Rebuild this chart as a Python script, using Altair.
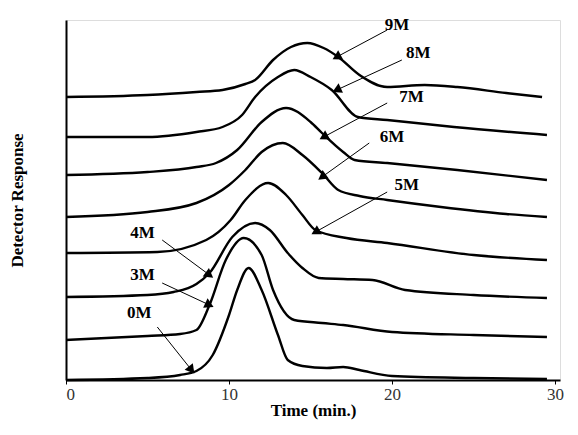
import math
import pandas as pd
import altair as alt

# time (min) / detector response (arbitrary, stacked offsets) for each trace
t_0M = [0, 5, 7, 8, 9, 10, 10.5, 11.2, 12, 13, 13.6, 14.5, 16, 17, 18, 20, 25, 29.5]
r_0M = [0, 2, 5, 9, 25, 65, 90, 112, 90, 45, 20, 14, 12, 13, 10, 4, 2, 1]
t_3M = [0, 5, 7, 8, 8.8, 9.8, 10.9, 12, 12.7, 14, 15.7, 17, 20, 25, 29.5]
r_3M = [40, 44, 46, 50, 75, 120, 142, 125, 90, 60, 57, 55, 48, 45, 43]
t_4M = [0, 5, 6.6, 8, 8.8, 10.2, 11.6, 12.5, 13.6, 14.5, 15.5, 17, 18.8, 20.8, 25, 29.5]
r_4M = [83, 85, 88, 96, 107, 143, 157, 150, 127, 112, 102, 101, 100, 90, 85, 82]
t_5M = [0, 5.6, 8.6, 10.1, 11, 12.4, 13.5, 14.5, 15.3, 17.2, 19.7, 25, 29.5]
r_5M = [127, 128, 140, 160, 180, 197, 185, 165, 150, 142, 137, 125, 120]
t_6M = [0, 5, 8, 10, 11, 12, 13.3, 14.5, 15.7, 16.7, 18, 19.7, 23, 27, 29.5]
r_6M = [163, 168, 177, 195, 210, 228, 237, 225, 207, 190, 184, 180, 173, 166, 163]
t_7M = [0, 5, 8, 9.2, 10.5, 12, 13.5, 15, 15.7, 17, 17.7, 19.7, 24, 29.5]
r_7M = [205, 208, 213, 217, 230, 258, 272, 258, 247, 228, 220, 217, 210, 200]
t_8M = [0, 5, 8, 9.6, 10.8, 11.6, 13, 14, 15, 16.3, 17.9, 19.7, 23.8, 29.5]
r_8M = [243, 243, 248, 253, 265, 283, 303, 310, 303, 290, 263, 260, 253, 245]
t_9M = [0, 5, 8, 9.6, 11, 11.6, 12.7, 13.8, 14.8, 15.8, 16.7, 18, 19.7, 22, 24, 27, 29.2]
r_9M = [283, 285, 288, 290, 296, 300, 320, 333, 337, 332, 323, 305, 293, 295, 293, 287, 283]

traces = {"0M": (t_0M, r_0M), "3M": (t_3M, r_3M), "4M": (t_4M, r_4M),
          "5M": (t_5M, r_5M), "6M": (t_6M, r_6M), "7M": (t_7M, r_7M),
          "8M": (t_8M, r_8M), "9M": (t_9M, r_9M)}

# labels: text position, arrow start, arrow tip
labels = ["9M", "8M", "7M", "6M", "5M", "4M", "3M", "0M"]
label_t = [20.3, 21.6, 21.2, 20.0, 20.9, 4.7, 4.7, 4.5]
label_r = [355, 327, 283, 243, 195, 147, 105, 67]
start_t = [19.7, 20.6, 19.7, 18.6, 19.7, 5.9, 5.9, 5.6]
start_r = [350, 320, 277, 237, 188, 140, 97, 53]
tip_t = [16.6, 16.6, 15.8, 15.7, 15.3, 8.8, 8.8, 7.7]
tip_r = [323, 290, 243, 203, 148, 105, 75, 10]

rows = []
for name, (ts, rs) in traces.items():
    for t, r in zip(ts, rs):
        rows.append({"trace": name, "t": t, "r": r})
df = pd.DataFrame(rows)

W, H = 494, 360
xdom, ydom = [0, 30.3], [0, 360]
px_t = W / (xdom[1] - xdom[0])
px_r = H / (ydom[1] - ydom[0])

ann = pd.DataFrame({"label": labels, "lt": label_t, "lr": label_r,
                    "st": start_t, "sr": start_r, "et": tip_t, "er": tip_r})
ann["angle"] = [
    (math.degrees(math.atan2((e - s) * px_t, (er - sr) * px_r)) + 360) % 360
    for s, e, sr, er in zip(start_t, tip_t, start_r, tip_r)
]

font = "Liberation Serif"
x = alt.X("t:Q", scale=alt.Scale(domain=xdom, nice=False),
          axis=alt.Axis(values=[0, 10, 20, 30], title="Time (min.)", grid=False,
                        tickSize=4, labelFontSize=17, titleFontSize=17,
                        titleFontWeight="bold", labelFont=font, titleFont=font,
                        domainColor="black", tickColor="black", domainWidth=2,
                        labelColor="#333", titlePadding=0))
y = alt.Y("r:Q", scale=alt.Scale(domain=ydom, nice=False),
          axis=alt.Axis(title="Detector Response", labels=False, ticks=False, grid=False,
                        titleFontSize=17, titleFontWeight="bold", titleFont=font,
                        domainColor="black", domainWidth=2, titlePadding=40))

lines = alt.Chart(df).mark_line(color="black", strokeWidth=2.4, interpolate="monotone").encode(
    x=x, y=y, detail="trace:N")

base = alt.Chart(ann)
arrows = base.mark_rule(color="black", strokeWidth=1).encode(
    x="st:Q", y="sr:Q", x2="et:Q", y2="er:Q")
heads = base.mark_point(shape="triangle-up", filled=True, color="black", size=110, opacity=1).encode(
    x="et:Q", y="er:Q", angle=alt.Angle("angle:Q", scale=None))
texts = base.mark_text(font=font, fontSize=17, fontWeight="bold", color="black").encode(
    x="lt:Q", y="lr:Q", text="label:N")

chart = (lines + arrows + heads + texts).properties(
    width=W, height=H, autosize=alt.AutoSizeParams(type="none"),
    padding={"left": 58, "top": 12, "right": 10, "bottom": 47}
).configure_view(stroke=None).configure(background="white")

chart.save("out.html", embed_options={"renderer": "svg", "actions": False})
